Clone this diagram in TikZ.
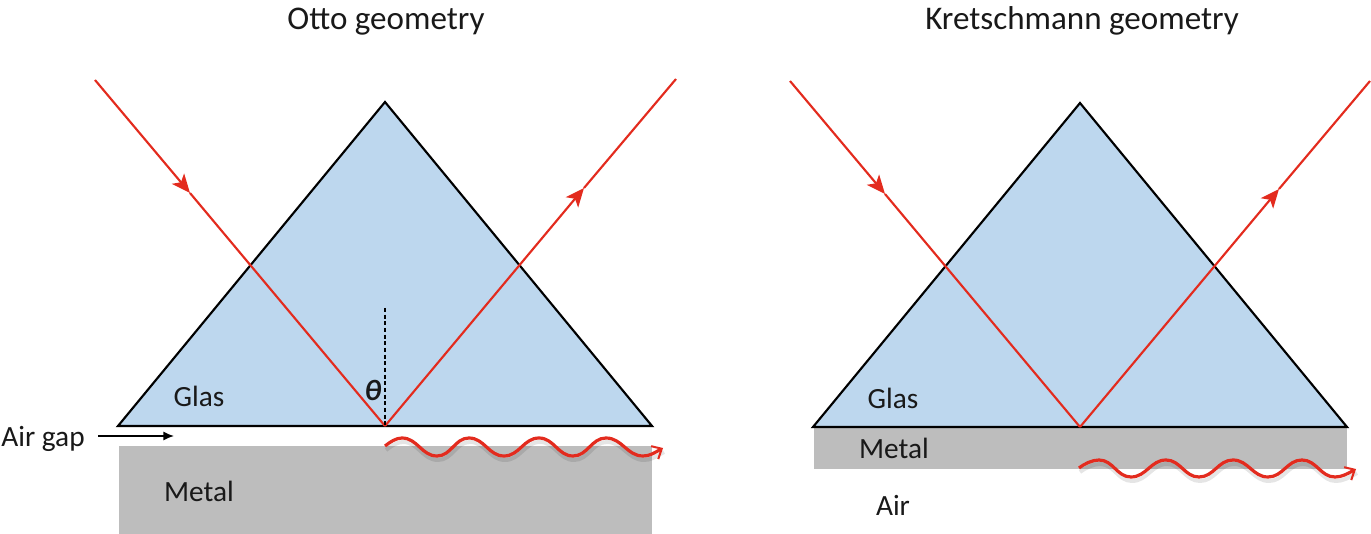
\documentclass[tikz,border=0pt]{standalone}
\usepackage{fontspec}
\setmainfont{Carlito}
\usetikzlibrary{arrows.meta}
\definecolor{glasblue}{RGB}{189,215,238}
\definecolor{metalgray}{RGB}{189,189,189}
\definecolor{rayred}{RGB}{227,43,30}
\tikzset{
  prism/.style={fill=glasblue,draw=black,line width=1.6pt,line join=miter},
  metal/.style={fill=metalgray,draw=none},
  ray/.style={draw=rayred,line width=1.6pt},
  rayhead/.style={ray,-{Stealth[inset=3.5pt,length=14pt,width=12pt]}},
  wave/.style={draw=rayred,line width=2.4pt,-{Straight Barb[length=6pt,width=11pt,line width=1.5pt]}},
  waveshade/.style={draw=black,opacity=0.10,line width=3pt},
  crest/.style={out=0,in=180},
  label/.style={font=\fontsize{22}{26}\selectfont,text=black!90,inner sep=0pt},
  heading/.style={font=\fontsize{24.8}{30}\selectfont,text=black!90,inner sep=0pt}
}
\def\ottowave{(385,446) .. controls (390,442) and (396,438) .. (402,438) to[crest] (437,456) to[crest] (469,438) to[crest] (504,456) to[crest] (539,438) to[crest] (573,456) to[crest] (606,438) to[crest] (643,456) .. controls (650,456) and (654,453) .. (663,448)}
\def\kretschwave{(1079,468) .. controls (1084,464) and (1092,460) .. (1099,460) to[crest] (1131,477) to[crest] (1166,460) to[crest] (1199,477) to[crest] (1233,460) to[crest] (1268,477) to[crest] (1302,460) to[crest] (1335,477) .. controls (1342,477) and (1347,474) .. (1356,469)}
\begin{document}
\begin{tikzpicture}[x=0.75pt,y=0.75pt,yscale=-1,xscale=1]
\useasboundingbox (0,0) rectangle (1371,534);

%Otto geometry
\fill[metal] (119,446) rectangle (652,534);
\draw[prism] (118,426) -- (385,102) -- (652,426) -- cycle;
\coordinate (ottoIn) at (95,80);
\coordinate (ottoInMid) at (190,193);
\coordinate (ottoHit) at (385,426);
\coordinate (ottoOutMid) at (584,188);
\coordinate (ottoOut) at (676,79);
\coordinate (ottoNormal) at (385,308);
\draw[rayhead] (ottoIn) -- (ottoInMid);
\draw[ray] (ottoInMid) -- (ottoHit);
\draw[rayhead] (ottoHit) -- (ottoOutMid);
\draw[ray] (ottoOutMid) -- (ottoOut);
\draw[black,line width=1pt,densely dashed] (ottoNormal) -- (ottoHit);
\draw[waveshade,shift={(1,4)}] \ottowave;
\draw[wave] \ottowave;
\coordinate (gapStart) at (98,436);
\coordinate (gapEnd) at (174,436);
\draw[black,line width=1.4pt,-{Latex[length=8pt,width=7pt]}] (gapStart) -- (gapEnd);

%Kretschmann geometry
\fill[metal] (814,428) rectangle (1347,469);
\draw[prism] (813,427) -- (1080,103) -- (1347,427) -- cycle;
\coordinate (kretIn) at (790,81);
\coordinate (kretInMid) at (885,194);
\coordinate (kretHit) at (1080,427);
\coordinate (kretOutMid) at (1279,189);
\coordinate (kretOut) at (1370,81);
\draw[rayhead] (kretIn) -- (kretInMid);
\draw[ray] (kretInMid) -- (kretHit);
\draw[rayhead] (kretHit) -- (kretOutMid);
\draw[ray] (kretOutMid) -- (kretOut);
\draw[waveshade,shift={(1,4)}] \kretschwave;
\draw[wave] \kretschwave;

% Text Node
\node[heading] (ottoTitle) at (386,22) {Otto geometry};
\node[heading] (kretTitle) at (1082,21) {Kretschmann geometry};
\node[label] (ottoGlas) at (199,396) {Glas};
\node[label] (ottoMetal) at (199,491) {Metal};
\node[label] (gapLabel) at (43,439) {Air gap};
\node[label] (thetaLabel) at (373,390) {\bfseries\itshape θ};
\node[label] (kretGlas) at (893,398) {Glas};
\node[label] (kretMetal) at (894,448) {Metal};
\node[label] (kretAir) at (893,505) {Air};
\end{tikzpicture}
\end{document}
